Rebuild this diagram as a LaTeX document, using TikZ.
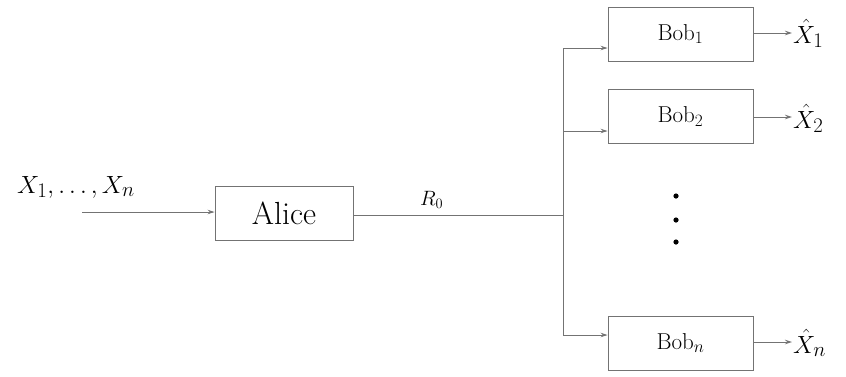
\documentclass[tikz,border=0pt]{standalone}
\usetikzlibrary{arrows.meta,calc}
\begin{document}
\begin{tikzpicture}[x=1pt,y=-1pt,
  every node/.style={inner sep=0pt},
  boxa/.style={draw=black!55,line width=0.9pt,minimum width=138pt,minimum height=54pt,font=\fontsize{32}{34}\selectfont},
  boxb/.style={draw=black!55,line width=0.9pt,minimum width=145pt,minimum height=54pt,font=\fontsize{23}{26}\selectfont},
  conn/.style={draw=black!55,line width=0.9pt},
  arr/.style={conn,-{Stealth[length=7pt,width=4.5pt]}},
  lab/.style={font=\fontsize{32}{34}\selectfont,anchor=base west},
  olab/.style={font=\fontsize{30}{32}\selectfont,anchor=base west}]
\useasboundingbox (0,0) rectangle (846,376);
\node[boxa] (alice) at (284,213) {Alice};
\node[boxb] (b1) at (680.5,34) {Bob$_1$};
\node[boxb] (b2) at (680.5,116.5) {Bob$_2$};
\node[boxb] (bn) at (680.5,343) {Bob$_n$};
\node[lab] (xin) at (17,193) {$X_1,\ldots,X_n$};
\coordinate (in) at (82,212);
\draw[arr] (in) -- (in -| alice.west);
\coordinate (jt) at (563,48);
\coordinate (j2) at (563,131);
\coordinate (jb) at (563,335);
\coordinate (jm) at (563,215);
\draw[conn] (alice.east |- jm) -- (jm);
\node[font=\fontsize{22}{24}\selectfont,anchor=base west] (r0) at (420,205) {$R_0$};
\draw[conn] (jt) -- (jb);
\draw[arr] (jt) -- (jt -| b1.west);
\draw[arr] (j2) -- (j2 -| b2.west);
\draw[arr] (jb) -- (jb -| bn.west);
\coordinate (o1) at (792,33);
\coordinate (o2) at (792,117);
\coordinate (on) at (792,342);
\draw[arr] (b1.east |- o1) -- (o1);
\draw[arr] (b2.east |- o2) -- (o2);
\draw[arr] (bn.east |- on) -- (on);
\node[olab] (x1) at (793,43) {$\hat X_1$};
\node[olab] (x2) at (793,128) {$\hat X_2$};
\node[olab] (xn) at (793,353) {$\hat X_n$};
\fill (676,196) circle (2.6pt);
\fill (676,220) circle (2.6pt);
\fill (676,242) circle (2.6pt);
\end{tikzpicture}
\end{document}
